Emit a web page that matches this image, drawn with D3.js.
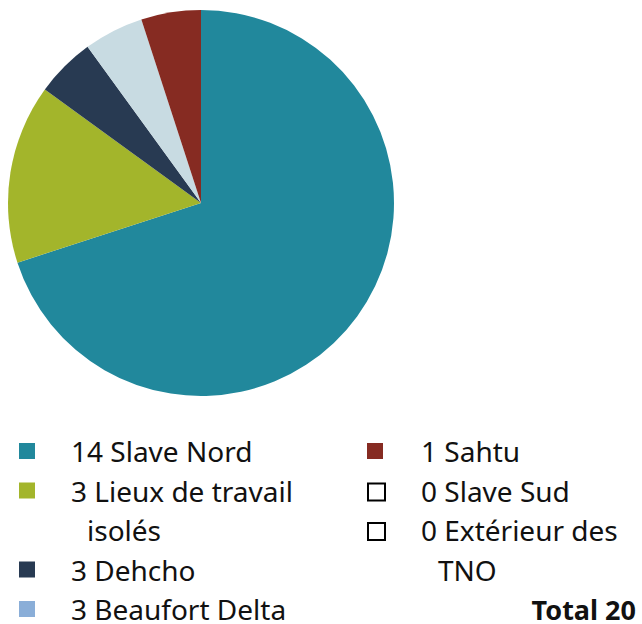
<!DOCTYPE html>
<html>
<head>
<meta charset="utf-8">
<script src="https://cdn.jsdelivr.net/npm/d3@7"></script>
<style>
    body { margin: 0; background: #fff; }
    svg { display: block; font-family: "Noto Sans", sans-serif; }
</style>
</head>
<body>
<div id="chart"></div>
<script>
// pie slices, clockwise from 12 o'clock
const sliceNames = ['Slave Nord', 'Lieux de travail isolés', 'Dehcho', 'Beaufort Delta', 'Sahtu'];
const sliceValues = [14, 3, 1, 1, 1];
const sliceColors = ['#21889c', '#a3b52b', '#283a52', '#c8dbe2', '#862b22'];

// legend entries as printed
const legendCounts = [14, 3, 3, 3, 1, 0, 0];
const legendLines = [
    ['Slave Nord'],
    ['Lieux de travail', 'isolés'],
    ['Dehcho'],
    ['Beaufort Delta'],
    ['Sahtu'],
    ['Slave Sud'],
    ['Extérieur des', 'TNO']
];
const legendColors = ['#21889c', '#a3b52b', '#283a52', '#8aaed8', '#862b22', null, null];
const totalLabel = 'Total 20';

const W = 642, H = 624;
const svg = d3.select('#chart').append('svg')
    .attr('width', W)
    .attr('height', H);

const cx = 201, cy = 203, r = 193;

const pie = d3.pie().sort(null).value(d => d.value);
const arc = d3.arc().innerRadius(0).outerRadius(r);

const slices = sliceNames.map((name, i) => ({name, value: sliceValues[i], color: sliceColors[i]}));

svg.append('g')
    .attr('transform', `translate(${cx},${cy})`)
    .selectAll('path')
    .data(pie(slices))
    .enter().append('path')
    .attr('d', arc)
    .attr('fill', d => d.data.color);

// legend: two columns
const lineH = 39.5;
const columns = [
    {items: [0, 1, 2, 3], markerX: 19, textX: 71, indent: 16},
    {items: [4, 5, 6], markerX: 367, textX: 421, indent: 17}
];
const firstBaseline = 462;
const fontSize = 28;

columns.forEach(col => {
    let line = 0;
    col.items.forEach(i => {
        const base = firstBaseline + line * lineH;
        const g = svg.append('g');
        if (legendColors[i]) {
            g.append('rect')
                .attr('x', col.markerX)
                .attr('y', base - 19)
                .attr('width', 16)
                .attr('height', 16)
                .attr('fill', legendColors[i]);
        } else {
            g.append('rect')
                .attr('x', col.markerX + 1)
                .attr('y', base - 18)
                .attr('width', 17)
                .attr('height', 17)
                .attr('fill', 'none')
                .attr('stroke', '#000')
                .attr('stroke-width', 2);
        }
        legendLines[i].forEach((txt, k) => {
            g.append('text')
                .attr('x', k === 0 ? col.textX : col.textX + col.indent)
                .attr('y', base + k * lineH)
                .style('font-size', fontSize + 'px')
                .attr('fill', '#111')
                .text(k === 0 ? `${legendCounts[i]} ${txt}` : txt);
        });
        line += legendLines[i].length;
    });
});

svg.append('text')
    .attr('x', 636)
    .attr('y', firstBaseline + 4 * lineH)
    .attr('text-anchor', 'end')
    .style('font-size', '27px')
    .style('font-weight', 'bold')
    .attr('fill', '#111')
    .text(totalLabel);
</script>
</body>
</html>
